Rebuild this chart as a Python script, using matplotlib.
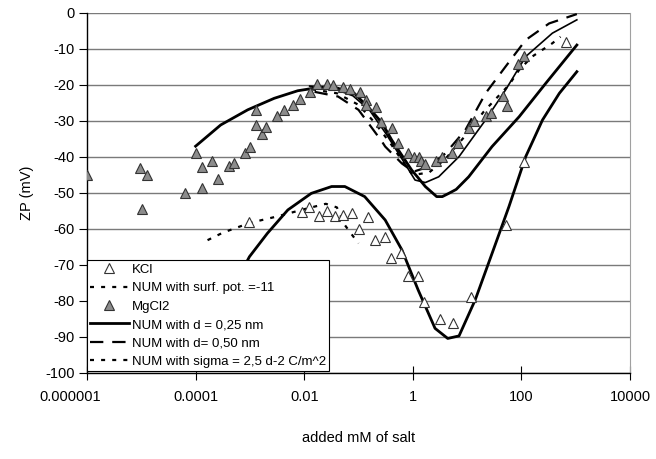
import numpy as np
import matplotlib
matplotlib.use('Agg')
import matplotlib.pyplot as plt
from matplotlib.transforms import ScaledTranslation

plt.rcParams['font.family'] = ['Liberation Sans', 'DejaVu Sans']
plt.rcParams['axes.unicode_minus'] = False

# --- measured points ---
mgcl2_x = [1e-6, 9.5e-6, 1.3e-5, 1.05e-5, 6.3e-5, 1e-4, 1.3e-4, 1.3e-4, 2.0e-4, 2.6e-4,
           4.1e-4, 5.2e-4, 8.1e-4, 1.0e-3, 1.3e-3, 1.3e-3, 1.7e-3, 2.0e-3, 3.2e-3, 4.2e-3,
           6.3e-3, 8.5e-3, 0.013, 0.017, 0.026, 0.034, 0.052, 0.069, 0.105, 0.135,
           0.14, 0.21, 0.26, 0.42, 0.54, 0.83, 1.05, 1.3, 1.4, 1.7,
           2.7, 3.5, 5.2, 6.8, 10.7, 13.5, 22, 27.5, 45, 55, 87, 112]
mgcl2_y = [-45, -43.1, -45, -54.5, -49.9, -39, -42.9, -48.5, -41, -46.1,
           -42.5, -41.8, -39, -37.1, -26.9, -31.1, -33.6, -31.6, -28.6, -26.9,
           -25.6, -23.8, -22.0, -19.8, -19.8, -20, -20.5, -21.1, -22, -24.2,
           -25.6, -26, -30.2, -32, -36.2, -39, -39.9, -39.9, -41, -41.9,
           -41.1, -39.9, -39, -36.2, -32, -29.9, -28.5, -27.7, -23.1, -25.8, -14.2, -11.9]

kcl_x = [9.5e-4, 9.1e-3, 0.0123, 0.0186, 0.026, 0.037, 0.052, 0.076, 0.1, 0.15,
         0.2, 0.31, 0.4, 0.6, 0.81, 1.23, 1.6, 3.2, 5.4, 11.7, 51, 110, 660]
kcl_y = [-58, -55.2, -54, -56.4, -54.9, -56.4, -56.1, -55.6, -60.1, -56.8,
         -63.1, -62.1, -68.1, -66.6, -73.1, -73.1, -80.2, -85.1, -86.2, -79, -58.9, -41.3, -8.1]

# --- model curves ---
kcl_pot_x = [1.66e-4, 3.2e-4, 1e-3, 3.2e-3, 0.01, 0.025, 0.04, 0.056, 0.075, 0.1]
kcl_pot_y = [-63.1, -61, -58.3, -56.5, -54.5, -53, -54, -58.9, -61.5, -64]

kcl_d25_x = [5e-4, 9.8e-4, 2.1e-3, 5e-3, 0.0135, 0.032, 0.056, 0.13, 0.31, 0.63,
             1.26, 2.57, 4.4, 7.1, 14.1, 28.8, 58.9, 120, 245, 500, 1050]
kcl_d25_y = [-76, -67.7, -61.2, -54.7, -50.1, -48.2, -48.2, -51, -57.5, -65.8,
             -77, -87.6, -90.4, -89.7, -79.7, -66.8, -53.8, -39.9, -29.7, -22.3, -16.3]

mg_d25_x = [1e-4, 2.9e-4, 9.1e-4, 2.8e-3, 7.6e-3, 0.02, 0.036, 0.085, 0.17, 0.27,
            0.41, 0.95, 1.26, 1.7, 2.75, 3.5, 4.6, 6.3, 10.7, 28.8, 91, 282, 1050]
mg_d25_y = [-37, -31.1, -26.9, -23.7, -21.6, -20.6, -20.6, -22.4, -27, -30.5,
            -35.3, -43.6, -45.8, -48.2, -51, -51, -50.1, -49, -45.5, -37.1, -28.8, -19.5, -8.9]

mg_thin_x = [0.0126, 0.032, 0.079, 0.16, 0.32, 0.63, 1.1, 1.7, 3.0, 7.1,
             21.9, 51, 120, 372, 1050]
mg_thin_y = [-20.3, -20.8, -23, -27, -33.5, -40.5, -46.4, -47.1, -45.5, -39.9,
             -29.7, -21.4, -12.1, -5.6, -1.9]

mg_d50_x = [0.0155, 0.042, 0.1, 0.17, 0.27, 0.31, 0.63, 1.02, 1.95, 4.0,
            9.3, 21.9, 51, 120, 324, 1050]
mg_d50_y = [-21.9, -23.2, -26.9, -31.6, -35.7, -37.1, -41.8, -44.1, -42.7, -39,
            -32.5, -22.3, -14.9, -7.5, -2.9, -0.3]

mg_sig_x = [0.014, 0.04, 0.1, 0.2, 0.4, 0.7, 1.0, 2.0, 4.0, 10,
            20, 33, 59, 91, 158, 372, 525]
mg_sig_y = [-21.2, -22.3, -25.5, -30.5, -36.5, -42, -45, -44.3, -40.5, -33.5,
            -27.5, -24, -20, -15.8, -12.1, -8.4, -6.6]

fig = plt.figure(figsize=(6.56, 4.59), dpi=100)
ax = fig.add_axes([87 / 656, 1 - 373 / 459, 543 / 656, 360 / 459])

ax.plot(kcl_pot_x, kcl_pot_y, color='black', lw=1.6, dashes=(1.8, 3.2),
        label='NUM with surf. pot. =-11', zorder=3)
ax.plot(kcl_d25_x, kcl_d25_y, color='black', lw=2.0, zorder=3)
ax.plot(mg_d25_x, mg_d25_y, color='black', lw=2.0,
        label='NUM with d = 0,25 nm', zorder=3)
ax.plot(mg_thin_x, mg_thin_y, color='black', lw=1.2, zorder=3)
ax.plot(mg_d50_x, mg_d50_y, color='black', lw=1.6, dashes=(6, 4),
        label='NUM with d= 0,50 nm', zorder=3)
ax.plot(mg_sig_x, mg_sig_y, color='black', lw=1.6, dashes=(1.8, 3.2),
        label='NUM with sigma = 2,5 d-2 C/m^2', zorder=3)

ax.plot(kcl_x, kcl_y, ls='none', marker='^', ms=7.5, mfc='white', mec='#333333',
        mew=0.8, label='KCl', zorder=4)
ax.plot(mgcl2_x, mgcl2_y, ls='none', marker='^', ms=7.5, mfc='#8c8c8c', mec='#333333',
        mew=0.8, label='MgCl2', zorder=4)

ax.set_xscale('log')
ax.set_xlim(1e-6, 1e4)
ax.set_ylim(-100, 0)
ax.set_xticks([1e-6, 1e-4, 1e-2, 1, 100, 1e4])
ax.set_xticklabels(['0.000001', '0.0001', '0.01', '1', '100', '10000'])
ax.xaxis.set_minor_locator(matplotlib.ticker.NullLocator())
ax.set_yticks(np.arange(-100, 1, 10))

ax.grid(axis='y', color='#7a7a7a', lw=1.0)
ax.set_axisbelow(True)
ax.spines['top'].set_visible(False)
ax.spines['right'].set_color('#a0a0a0')
ax.spines['left'].set_linewidth(1.0)
ax.spines['bottom'].set_linewidth(1.0)
ax.tick_params(axis='y', direction='out', length=6, labelsize=10.5, pad=3)
ax.tick_params(axis='x', direction='inout', length=10, labelsize=10.5, pad=7)

# first label sits a bit left of its tick in the original
lab0 = ax.get_xticklabels()[0]
lab0.set_transform(lab0.get_transform() + ScaledTranslation(-0.17, 0, fig.dpi_scale_trans))

ax.set_xlabel('added mM of salt', fontsize=10.5, labelpad=20)
ax.set_ylabel('ZP (mV)', fontsize=10.5, labelpad=8)

handles, labels = ax.get_legend_handles_labels()
order = ['KCl', 'NUM with surf. pot. =-11', 'MgCl2', 'NUM with d = 0,25 nm',
         'NUM with d= 0,50 nm', 'NUM with sigma = 2,5 d-2 C/m^2']
hmap = dict(zip(labels, handles))
leg = ax.legend([hmap[k] for k in order], order, loc='lower left',
                bbox_to_anchor=(0.0, 0.005), fontsize=9.5, numpoints=1,
                handlelength=2.9, handletextpad=0.25, labelspacing=0.47,
                borderpad=0.25, borderaxespad=0, fancybox=False, framealpha=1)
leg.get_frame().set_edgecolor('black')
leg.get_frame().set_linewidth(0.8)
leg.set_zorder(10)

fig.savefig('out.png', dpi=100)
